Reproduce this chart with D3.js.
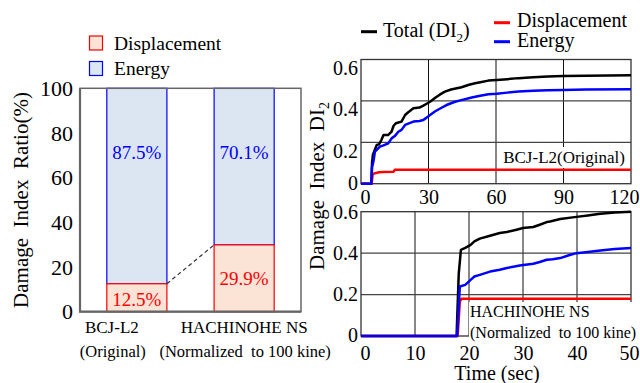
<!DOCTYPE html>
<html>
	<head>
		<meta http-equiv="Content-Type" content="text/html;charset=utf-8"/>
		<title>Damage index ratio and history</title>
		<script type="text/javascript" src="https://cdn.jsdelivr.net/npm/d3@7"></script>
		<style type="text/css">

			body { margin: 0; background: #fff; }

			svg text {
				font-family: "Liberation Serif", "Times New Roman", serif;
				fill: #000;
			}

			/* tick labels of every axis */
			.axis text { font-size: 20px; }
			.axis .domain { display: none; }

			.curve { fill: none; stroke-width: 2.5; stroke-linejoin: round; }

		</style>
	</head>
	<body>
		<script type="text/javascript">

			//Left panel: share of each part in the final damage index (%)
			var records = ["BCJ-L2", "HACHINOHE NS"];
			var recordNotes = ["(Original)", "(Normalized\u00a0\u00a0to 100 kine)"];
			var dispShare = [12.5, 29.9];
			var energyShare = [87.5, 70.1];
			var shareTicks = [0, 20, 40, 60, 80, 100];

			//Right panels: damage index history, pairs of [time (sec), DI]
			var bcjTotal = [[0, 0], [4.6, 0], [4.9, 0.10], [5.3, 0.14], [6, 0.16], [7, 0.187], [8, 0.19],
				[9, 0.21], [10, 0.235], [12, 0.235], [13.5, 0.25], [14.5, 0.28], [15.5, 0.292], [18, 0.30],
				[19.6, 0.332], [21, 0.345], [23.3, 0.364], [26, 0.368], [27.7, 0.377], [29, 0.385],
				[30.7, 0.396], [33, 0.415], [35, 0.43], [37.3, 0.445], [40, 0.455], [44.7, 0.466],
				[48, 0.478], [50.7, 0.485], [53, 0.49], [56.6, 0.498], [60.3, 0.501], [65, 0.505],
				[70, 0.51], [76.5, 0.514], [83, 0.518], [90, 0.52], [100, 0.522], [120, 0.524]];
			var bcjEnergy = [[0, 0], [4.6, 0], [4.9, 0.08], [5.5, 0.106], [6.2, 0.155], [8.4, 0.179],
				[10, 0.185], [12.1, 0.195], [13.6, 0.219], [15, 0.23], [16.6, 0.251], [18, 0.26],
				[19.6, 0.284], [21, 0.29], [23.3, 0.30], [26, 0.303], [27.7, 0.308], [29, 0.318],
				[30.7, 0.332], [33, 0.35], [35.8, 0.367], [38, 0.38], [41.8, 0.396], [45, 0.405],
				[49.2, 0.416], [53, 0.425], [56.6, 0.432], [60.3, 0.435], [65, 0.44], [70, 0.445],
				[76.5, 0.449], [83, 0.452], [90, 0.453], [100, 0.455], [120, 0.456]];
			var bcjDisp = [[0, 0], [4.7, 0], [5.2, 0.045], [6, 0.05], [8, 0.055], [10, 0.057],
				[14.5, 0.058], [15, 0.067], [120, 0.067]];

			var hachiTotal = [[0, 0], [17.7, 0], [18.1, 0.3], [18.5, 0.416], [19.3, 0.425], [20.3, 0.44],
				[21, 0.457], [22, 0.47], [23.9, 0.484], [25.7, 0.497], [27, 0.502], [28.8, 0.513],
				[30, 0.521], [31.9, 0.526], [33.1, 0.537], [34.4, 0.55], [35, 0.553], [36.9, 0.565],
				[39.9, 0.575], [42, 0.582], [44.3, 0.59], [47, 0.596], [50, 0.60]];
			var hachiEnergy = [[0, 0], [17.8, 0], [18.3, 0.239], [19.3, 0.247], [20.3, 0.271], [21, 0.287],
				[22, 0.295], [23.9, 0.311], [25.7, 0.32], [27, 0.328], [29.4, 0.34], [31.9, 0.349],
				[33.1, 0.357], [34.4, 0.368], [35.5, 0.37], [36.9, 0.376], [38.5, 0.39], [39.9, 0.40],
				[42, 0.406], [44.3, 0.413], [47, 0.42], [50, 0.425]];
			var hachiDisp = [[0, 0], [17.9, 0], [18.3, 0.166], [18.6, 0.18], [50, 0.18]];

			var bcjTicks = [0, 30, 60, 90, 120];
			var hachiTicks = [0, 10, 20, 30, 40, 50];
			var diTicks = [0, 0.2, 0.4, 0.6];

			var red = "#ff0000",
				blue = "#0000ff",
				dispFill = "#fbe3d6",
				energyFill = "#dce6f2";

			var svg = d3.select("body").append("svg")
						.attr("width", 640)
						.attr("height", 383);

			//---------------- left panel: stacked ratio bars ----------------

			var xb = d3.scaleBand().domain(records).range([80, 301])
						.paddingInner(0.44).paddingOuter(0.25);
			var yb = d3.scaleLinear().domain([0, 100]).range([311.7, 88.3]);
			var bw = xb.bandwidth();

			//energy part on top
			svg.selectAll("rect.energy")
				.data(records)
				.enter()
				.append("rect")
				.attr("class", "energy")
				.attr("x", function(d) { return xb(d); })
				.attr("width", bw)
				.attr("y", yb(100))
				.attr("height", function(d, i) { return yb(dispShare[i]) - yb(100); })
				.attr("fill", energyFill)
				.attr("stroke", blue)
				.attr("stroke-width", 1.2);

			//displacement part at the bottom
			svg.selectAll("rect.disp")
				.data(records)
				.enter()
				.append("rect")
				.attr("class", "disp")
				.attr("x", function(d) { return xb(d); })
				.attr("width", bw)
				.attr("y", function(d, i) { return yb(dispShare[i]); })
				.attr("height", function(d, i) { return yb(0) - yb(dispShare[i]); })
				.attr("fill", dispFill)
				.attr("stroke", red)
				.attr("stroke-width", 1.2);

			//dashed line joining the two displacement tops
			svg.append("line")
				.attr("x1", xb(records[0]) + bw)
				.attr("y1", yb(dispShare[0]))
				.attr("x2", xb(records[1]))
				.attr("y2", yb(dispShare[1]))
				.attr("stroke", "#333")
				.attr("stroke-width", 1.2)
				.attr("stroke-dasharray", "4,3");

			//percent labels
			svg.selectAll("text.elab")
				.data(records)
				.enter()
				.append("text")
				.attr("x", function(d) { return xb(d) + bw / 2; })
				.attr("y", yb(71.5))
				.attr("dy", "0.35em")
				.attr("text-anchor", "middle")
				.style("font-size", "19px")
				.style("fill", blue)
				.text(function(d, i) { return energyShare[i].toFixed(1) + "%"; });

			svg.selectAll("text.dlab")
				.data(records)
				.enter()
				.append("text")
				.attr("x", function(d) { return xb(d) + bw / 2; })
				.attr("y", function(d, i) { return yb(i === 0 ? 5.5 : dispShare[i] / 2); })
				.attr("dy", "0.35em")
				.attr("text-anchor", "middle")
				.style("font-size", "19px")
				.style("fill", red)
				.text(function(d, i) { return dispShare[i].toFixed(1) + "%"; });

			//frame
			svg.append("rect")
				.attr("x", 80).attr("y", yb(100))
				.attr("width", 221).attr("height", yb(0) - yb(100))
				.attr("fill", "none").attr("stroke", "#666").attr("stroke-width", 1.5);
			svg.append("path")
				.attr("d", "M80," + yb(100) + "V" + yb(0) + "H301")
				.attr("fill", "none").attr("stroke", "#666").attr("stroke-width", 2.2);

			//y axis
			var yAxisL = svg.append("g")
				.attr("class", "axis")
				.attr("transform", "translate(80,0)")
				.call(d3.axisLeft(yb).tickValues(shareTicks).tickSize(0).tickPadding(7));
			yAxisL.selectAll("text").style("font-size", "22px");

			//category labels, the first one sits a little left of its bar
			var labelShift = [-25, 0];
			svg.selectAll("text.cat")
				.data(records)
				.enter()
				.append("text")
				.attr("x", function(d, i) { return xb(d) + bw / 2 + labelShift[i]; })
				.attr("y", 333)
				.attr("text-anchor", "middle")
				.style("font-size", "17px")
				.text(function(d) { return d; });
			svg.selectAll("text.note")
				.data(records)
				.enter()
				.append("text")
				.attr("x", function(d, i) { return xb(d) + bw / 2 + labelShift[i] + 1; })
				.attr("y", 357)
				.attr("text-anchor", "middle")
				.style("font-size", "16.5px")
				.text(function(d, i) { return recordNotes[i]; });

			svg.append("text")
				.attr("transform", "translate(28," + yb(50) + ") rotate(-90)")
				.attr("text-anchor", "middle")
				.style("font-size", "21px")
				.text("Damage\u00a0\u00a0Index\u00a0\u00a0Ratio(%)");

			//legend
			var legL = [["Displacement", dispFill, red], ["Energy", energyFill, blue]];
			legL.forEach(function(d, i) {
				svg.append("rect")
					.attr("x", 89.5).attr("y", 36 + i * 25.5)
					.attr("width", 13).attr("height", 14)
					.attr("fill", d[1]).attr("stroke", d[2]).attr("stroke-width", 1.2);
				svg.append("text")
					.attr("x", 114).attr("y", 50 + i * 24.5)
					.style("font-size", "19.5px")
					.text(d[0]);
			});

			//---------------- right panels: damage index histories ----------------

			function drawPanel(p) {
				var x = d3.scaleLinear().domain(p.xDomain).range([361, 631]);
				var y = d3.scaleLinear().domain([0, 0.6]).range([p.bottom, p.top]);
				var g = svg.append("g");

				//grid
				g.selectAll("line.vg")
					.data(p.xTicks.slice(1, -1))
					.enter()
					.append("line")
					.attr("x1", function(d) { return x(d); })
					.attr("x2", function(d) { return x(d); })
					.attr("y1", y(0)).attr("y2", y(0.6))
					.attr("stroke", "#111").attr("stroke-width", 1);
				g.selectAll("line.hg")
					.data(diTicks.slice(1, -1))
					.enter()
					.append("line")
					.attr("x1", x.range()[0]).attr("x2", x.range()[1])
					.attr("y1", function(d) { return y(d); })
					.attr("y2", function(d) { return y(d); })
					.attr("stroke", "#444").attr("stroke-width", 1.2);

				//frame
				g.append("rect")
					.attr("x", 361).attr("y", y(0.6))
					.attr("width", 270).attr("height", y(0) - y(0.6))
					.attr("fill", "none").attr("stroke", "#333").attr("stroke-width", 1.3);

				//annotation with a white box behind it
				var note = g.append("g");
				p.note.forEach(function(t, i) {
					note.append("text")
						.attr("x", p.noteX(x))
						.attr("y", p.noteY + i * 21)
						.attr("text-anchor", p.noteAnchor)
						.style("font-size", p.noteSize)
						.text(t);
				});
				var bb = note.node().getBBox();
				note.insert("rect", "text")
					.attr("x", bb.x - 1).attr("y", bb.y - 1)
					.attr("width", p.noteWide ? 640 - bb.x : bb.width + 4)
					.attr("height", bb.height + 2)
					.attr("fill", "#fff");

				//curves
				var line = d3.line()
					.x(function(d) { return x(d[0]); })
					.y(function(d) { return y(d[1]); });
				[[p.total, "#000"], [p.disp, red], [p.energy, blue]].forEach(function(s) {
					g.append("path")
						.attr("class", "curve")
						.attr("d", line(s[0]))
						.attr("stroke", s[1]);
				});

				//axes
				g.append("g")
					.attr("class", "axis")
					.attr("transform", "translate(361,0)")
					.call(d3.axisLeft(y).tickValues(diTicks).tickSize(0).tickPadding(3)
						.tickFormat(function(d) { return d === 0 ? "0" : d3.format(".1f")(d); }))
					.selectAll("text")
					.attr("dy", function(d) { return d === 0 ? "0.28em" : p.yLabelDy; });

				//end labels are nudged inward as in the original layout,
				//the last one is right-aligned so it stays inside the page
				var last = p.xTicks[p.xTicks.length - 1];
				g.append("g")
					.attr("class", "axis")
					.attr("transform", "translate(0," + y(0) + ")")
					.call(d3.axisBottom(x).tickValues(p.xTicks).tickSize(0).tickPadding(p.xPad))
					.selectAll("text")
					.attr("text-anchor", function(d) { return d === last ? "end" : "middle"; })
					.attr("dx", function(d) { return d === 0 ? 4 : (d === last ? 8 : 0); });

				return x;
			}

			drawPanel({
				xDomain: [0, 120], xTicks: bcjTicks, top: 59.5, bottom: 183.7, xPad: 6,
				yLabelDy: "0.75em",
				total: bcjTotal, energy: bcjEnergy, disp: bcjDisp,
				note: ["BCJ-L2(Original)"], noteAnchor: "end", noteY: 163, noteWide: false,
				noteSize: "17px",
				noteX: function(x) { return x(120) - 6; }
			});

			drawPanel({
				xDomain: [0, 50], xTicks: hachiTicks, top: 211.7, bottom: 336, xPad: 10,
				yLabelDy: "0.32em",
				total: hachiTotal, energy: hachiEnergy, disp: hachiDisp,
				note: ["HACHINOHE NS", "(Normalized\u00a0\u00a0to 100 kine)"], noteAnchor: "start",
				noteY: 317, noteWide: true, noteSize: "16px",
				noteX: function(x) { return x(20) + 1; }
			});

			//shared axis titles
			var ylab = svg.append("text")
				.attr("transform", "translate(324,186) rotate(-90)")
				.attr("text-anchor", "middle")
				.style("font-size", "21px");
			ylab.append("tspan").text("Damage\u00a0\u00a0Index\u00a0\u00a0DI");
			ylab.append("tspan").attr("dy", 5).style("font-size", "14px").text("2");

			svg.append("text")
				.attr("x", 497).attr("y", 380)
				.attr("text-anchor", "middle")
				.style("font-size", "20px")
				.text("Time (sec)");

			//legend of the history panels
			var legR = [["#000", 361, 31.7], [red, 494, 22.7], [blue, 494, 41.7]];
			legR.forEach(function(d) {
				svg.append("line")
					.attr("x1", d[1]).attr("x2", d[1] + 16)
					.attr("y1", d[2]).attr("y2", d[2])
					.attr("stroke", d[0]).attr("stroke-width", 3);
			});
			var tot = svg.append("text").attr("x", 383).attr("y", 37).style("font-size", "20px");
			tot.append("tspan").text("Total (DI");
			tot.append("tspan").attr("dy", 5).style("font-size", "13px").text("2");
			tot.append("tspan").attr("dy", -5).text(")");
			svg.append("text").attr("x", 517).attr("y", 27).style("font-size", "20px").text("Displacement");
			svg.append("text").attr("x", 517).attr("y", 47).style("font-size", "20px").text("Energy");

		</script>
	</body>
</html>
